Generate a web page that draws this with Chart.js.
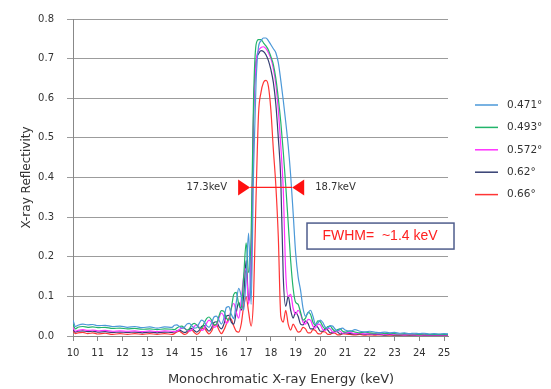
<!DOCTYPE html>
<html>
<head>
<meta charset="utf-8">
<script src="https://cdn.jsdelivr.net/npm/chart.js@4.4.1/dist/chart.umd.min.js"></script>
<style>html,body{margin:0;padding:0;background:#fff}#wrap{width:551px;height:389px}</style>
</head>
<body>
<div id="wrap"><canvas id="c" width="551" height="389"></canvas></div>
<script>
// energy grid (keV)
const energy=[10.0,10.1,10.2,10.4,10.6,10.8,11.0,11.3,11.6,11.9,12.2,12.5,12.8,13.1,13.4,13.7,14.0,
14.1,14.2,14.3,14.4,14.5,14.6,14.7,14.8,14.9,15.0,15.1,15.2,15.3,15.4,15.5,15.6,15.7,15.8,15.9,16.0,
16.1,16.2,16.3,16.4,16.5,16.6,16.7,16.8,16.9,17.0,17.1,17.2,17.3,17.4,17.5,17.6,17.7,17.8,17.9,18.0,
18.1,18.2,18.3,18.4,18.5,18.6,18.7,18.8,18.9,19.0,19.1,19.2,19.3,19.4,19.5,19.6,19.7,19.8,19.9,20.0,
20.1,20.2,20.3,20.4,20.5,20.6,20.7,20.8,20.9,21.0,
21.2,21.4,21.6,21.8,22.0,22.2,22.4,22.6,22.8,23.0,23.2,23.4,23.6,23.8,24.0,24.2,24.4,24.6,24.8,25.0,25.2];

const r471=[.040,.024,.027,.030,.028,.029,.026,.027,.024,.025,.022,.024,.021,.023,.020,.023,.022,
.027,.028,.024,.020,.022,.030,.032,.026,.020,.021,.032,.040,.036,.026,.022,.032,.048,.050,.040,.030,
.045,.072,.074,.055,.044,.085,.120,.100,.065,.150,.260,.080,.420,.640,.730,.745,.752,.752,.745,.735,
.725,.715,.690,.645,.595,.540,.480,.405,.310,.210,.150,.115,.070,.050,.058,.065,.050,.030,.033,.040,
.034,.022,.020,.026,.025,.017,.013,.018,.020,.015,
.012,.016,.012,.010,.012,.010,.008,.010,.008,.009,.007,.008,.006,.007,.006,.007,.005,.006,.005,.006,.005];

const r493=[.030,.018,.022,.024,.022,.023,.021,.022,.019,.020,.018,.019,.017,.018,.016,.018,.017,
.016,.020,.024,.025,.020,.015,.018,.028,.032,.028,.020,.020,.032,.044,.048,.040,.028,.030,.050,.064,
.062,.045,.040,.070,.105,.110,.080,.070,.150,.235,.160,.250,.600,.735,.748,.748,.740,.732,.722,.705,
.685,.650,.600,.540,.465,.380,.285,.190,.120,.085,.080,.060,.040,.045,.060,.055,.035,.028,.038,.036,
.024,.018,.024,.025,.017,.012,.016,.018,.012,.010,
.013,.010,.008,.010,.008,.007,.008,.006,.007,.006,.005,.006,.005,.005,.004,.005,.004,.004,.004,.004,.004];

const r572=[.022,.012,.014,.016,.014,.015,.013,.014,.012,.013,.012,.013,.011,.013,.011,.013,.012,
.011,.012,.016,.020,.020,.015,.012,.015,.024,.028,.022,.014,.018,.032,.040,.034,.022,.025,.045,.058,
.050,.032,.040,.070,.082,.060,.045,.090,.150,.170,.080,.200,.560,.690,.720,.728,.730,.725,.715,.700,
.675,.635,.570,.480,.370,.160,.100,.105,.070,.055,.065,.055,.035,.030,.042,.040,.025,.020,.030,.028,
.016,.014,.020,.018,.010,.010,.014,.012,.007,.008,
.009,.006,.007,.005,.006,.005,.005,.004,.005,.004,.004,.003,.004,.003,.003,.003,.003,.003,.003,.003,.003];

const r620=[.015,.010,.012,.013,.011,.012,.010,.011,.009,.010,.009,.010,.008,.010,.008,.010,.009,
.010,.013,.015,.012,.009,.011,.017,.019,.014,.010,.014,.024,.026,.018,.012,.020,.034,.036,.024,.018,
.030,.050,.052,.035,.030,.060,.085,.065,.100,.190,.090,.160,.560,.690,.712,.720,.718,.710,.695,.672,
.640,.585,.500,.395,.150,.075,.100,.065,.045,.060,.050,.030,.028,.038,.032,.018,.018,.026,.022,.012,
.012,.018,.015,.008,.008,.012,.010,.005,.006,.008,
.006,.005,.006,.004,.005,.004,.004,.003,.004,.003,.003,.003,.003,.002,.003,.002,.002,.002,.002,.002,.002];

const r660=[.012,.006,.008,.009,.006,.008,.005,.007,.004,.006,.004,.006,.004,.006,.004,.006,.004,
.006,.010,.012,.008,.004,.006,.013,.015,.009,.004,.008,.018,.020,.012,.005,.012,.026,.028,.015,.006,
.015,.030,.045,.042,.025,.012,.010,.030,.075,.098,.060,.025,.100,.350,.560,.615,.640,.645,.630,.570,
.470,.380,.250,.050,.035,.065,.030,.015,.030,.020,.010,.012,.022,.018,.008,.008,.016,.014,.006,.005,
.011,.010,.004,.004,.008,.007,.003,.003,.006,.005,
.004,.003,.004,.002,.003,.002,.003,.002,.002,.002,.002,.002,.002,.002,.002,.002,.002,.002,.002,.002,.002];

const seriesLabels=['0.471°','0.493°','0.572°','0.62°','0.66°'];
const seriesColors=['#4b98d8','#22b46a','#ff30ff','#343f72','#ff3535'];
const seriesValues=[r471,r493,r572,r620,r660];
const yTicks=[0,0.1,0.2,0.3,0.4,0.5,0.6,0.7,0.8];

// FWHM marker (data coords)
const fwhmFrom=17.16,fwhmTo=18.86,fwhmLevel=0.375;

const F='"DejaVu Sans", sans-serif';
const annot={id:'annot',afterDatasetsDraw(ch){
  const c=ch.ctx,xs=ch.scales.x,ys=ch.scales.y;
  const x1=xs.getPixelForValue(fwhmFrom),x2=xs.getPixelForValue(fwhmTo),y=ys.getPixelForValue(fwhmLevel);
  c.save();
  c.strokeStyle='#ff2020';c.lineWidth=1.2;c.beginPath();c.moveTo(x1,y);c.lineTo(x2,y);c.stroke();
  c.fillStyle='#ff1010';
  c.beginPath();c.moveTo(x1,y);c.lineTo(x1-12,y-8);c.lineTo(x1-12,y+8);c.closePath();c.fill();
  c.beginPath();c.moveTo(x2,y);c.lineTo(x2+12,y-8);c.lineTo(x2+12,y+8);c.closePath();c.fill();
  c.fillStyle='#333';c.font='10px '+F;c.textBaseline='middle';
  c.textAlign='right';c.fillText('17.3keV',x1-23,y);
  c.textAlign='left';c.fillText('18.7keV',x2+23,y);
  // FWHM box
  const bx=xs.getPixelForValue(19.46),by=ys.getPixelForValue(0.285);
  c.fillStyle='#fff';c.fillRect(bx,by,147,26);
  c.strokeStyle='#4f5d8c';c.lineWidth=1.5;c.strokeRect(bx,by,147,26);
  c.fillStyle='#ff2020';c.font='14px "Liberation Sans", sans-serif';c.textAlign='center';
  c.fillText('FWHM=  ~1.4 keV',bx+73,by+13.5);
  // x title
  c.fillStyle='#333';c.font='13px '+F;c.textAlign='center';
  c.fillText('Monochromatic X-ray Energy (keV)',281,380);
  // legend
  c.font='10.5px '+F;c.textAlign='left';
  ch.data.datasets.forEach((d,i)=>{const ly=105+i*22.4;
    c.strokeStyle=d.borderColor;c.lineWidth=1.5;c.beginPath();c.moveTo(475,ly);c.lineTo(498,ly);c.stroke();
    c.fillStyle='#333';c.fillText(d.label,507,ly);});
  c.restore();
}};

new Chart(document.getElementById('c'),{
  type:'line',
  data:{datasets:seriesValues.map((v,i)=>({label:seriesLabels[i],data:energy.map((e,j)=>({x:e,y:v[j]})),
    borderColor:seriesColors[i],borderWidth:1.2,pointRadius:0,cubicInterpolationMode:'monotone',fill:false}))},
  options:{
    responsive:false,animation:false,
    layout:{padding:{left:0,top:16,right:103,bottom:0}},
    plugins:{legend:{display:false},tooltip:{enabled:false}},
    scales:{
      x:{type:'linear',min:10,max:25.16,
        afterFit:s=>{s.height=53;},
        border:{color:'#888'},
        grid:{drawOnChartArea:false,drawTicks:true,tickLength:5,color:'#888'},
        ticks:{stepSize:1,includeBounds:false,padding:6,color:'#333',font:{family:F,size:10},maxRotation:0,autoSkip:false}},
      y:{min:0,max:0.8,
        afterFit:s=>{s.width=73;},
        afterBuildTicks:s=>{s.ticks=yTicks.map(v=>({value:v}));},
        border:{color:'#888'},
        grid:{color:'#9c9c9c',tickLength:6},
        ticks:{padding:13,color:'#333',font:{family:F,size:10},callback:v=>v.toFixed(1)},
        title:{display:true,text:'X-ray Reflectivity',color:'#333',font:{family:F,size:12},padding:{top:20}}}
    }
  },
  plugins:[annot]
});
</script>
</body>
</html>
